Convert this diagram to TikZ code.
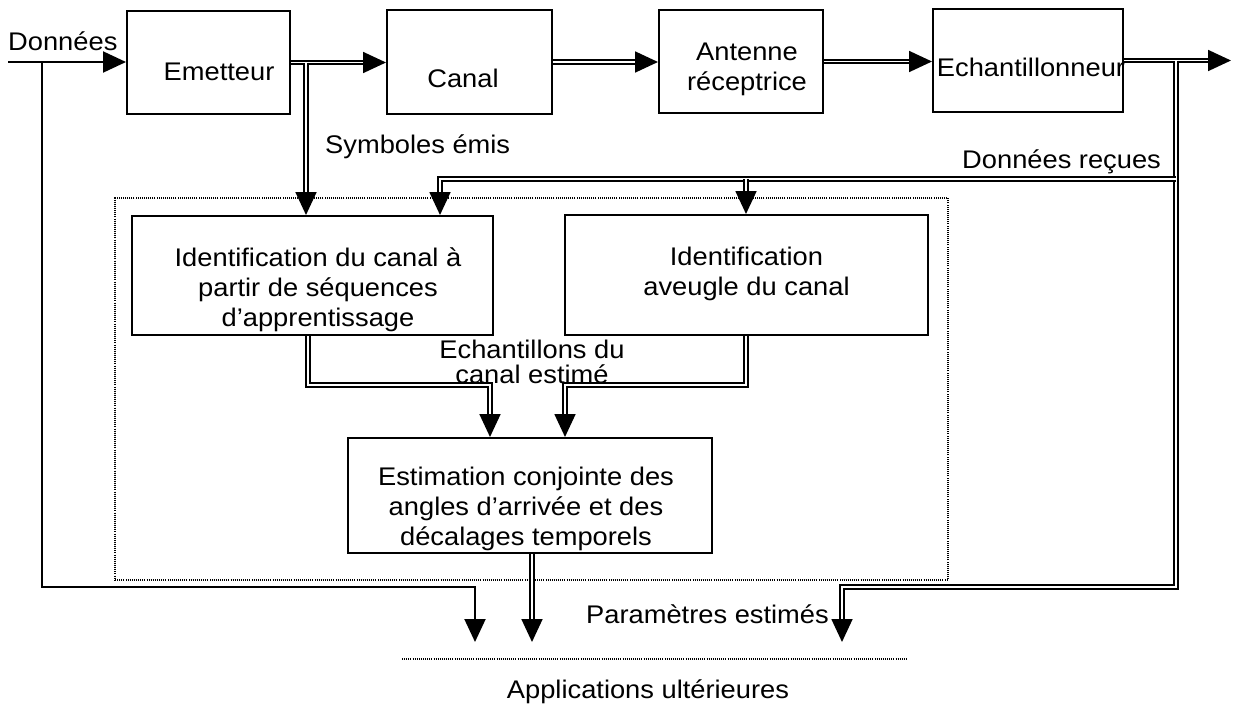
\documentclass[tikz,border=0pt]{standalone}
\usepackage{fontspec}
\setmainfont{Liberation Sans}[FakeStretch=1.07]
\usetikzlibrary{arrows.meta}
\begin{document}
\begin{tikzpicture}[x=1pt,y=-1pt,
  every node/.style={font=\fontsize{25.5}{30}\selectfont, inner sep=0pt},
  blk/.style={draw, line width=2pt},
  dotbox/.style={draw, line width=1.4pt, dash pattern=on 1pt off 1.1pt},
  arr/.style={-{Triangle[length=23pt 0 0,width=21pt 0 0]}},
  sgl/.style={line width=2pt},
  dbl/.style={double, line width=1.8pt, double distance=1.6pt}]
\useasboundingbox (0,0) rectangle (1235,715);
% group frame
\node[dotbox, minimum width=833pt, minimum height=382pt] (grp) at (531.5,389) {};
% blocks
\node[blk, minimum width=163pt, minimum height=103pt,
  label={[xshift=10.5pt,yshift=-9.5pt]center:Emetteur}] (emet) at (208.5,62.5) {};
\node[blk, minimum width=165pt, minimum height=104pt,
  label={[xshift=-6.5pt,yshift=-16pt]center:Canal}] (canal) at (469.5,62) {};
\node[blk, minimum width=164pt, minimum height=103pt,
  label={[align=center,xshift=6pt,yshift=-8pt]center:Antenne\\réceptrice}] (ant) at (741,61.5) {};
\node[blk, minimum width=190pt, minimum height=103pt,
  label={[xshift=3pt,yshift=-6.5pt]center:Echantillonneur}] (ech) at (1028,60.5) {};
\node[blk, minimum width=361pt, minimum height=119pt,
  label={[align=center,xshift=5.5pt,yshift=-14.5pt]center:Identification du canal à\\partir de séquences\\d’apprentissage}] (ident) at (312.5,275.5) {};
\node[blk, minimum width=363pt, minimum height=120pt,
  label={[align=center,yshift=1.5pt]center:Identification\\aveugle du canal}] (aveu) at (746.5,275) {};
\node[blk, minimum width=364pt, minimum height=115pt,
  label={[align=center,xshift=-4pt,yshift=-13.5pt]center:Estimation conjointe des\\angles d’arrivée et des\\décalages temporels}] (est) at (530,495.5) {};
% free texts
\node[anchor=base west] (tdon) at (8,50) {Données};
\node[anchor=base west] (tsym) at (325,153) {Symboles émis};
\node[anchor=base west] (trec) at (962,168) {Données reçues};
\node[align=center, font=\fontsize{25.5}{25}\selectfont] (tech) at (532,361.5) {Echantillons du\\canal estimé};
\node[anchor=base west] (tpar) at (586,623) {Paramètres estimés};
\node[anchor=base] (tapp) at (648,698) {Applications ultérieures};
% helper coordinates
\coordinate (din) at (8,62);
\coordinate (out) at (1231,0);
\coordinate (sym) at (306,0);
\coordinate (rx) at (1176,0);
\coordinate (rtop) at (0,179);
\coordinate (bot) at (0,587);
\coordinate (px) at (842,0);
\coordinate (dx) at (42,0);
\coordinate (ax) at (475,0);
\coordinate (tipy) at (0,642);
\coordinate (mid) at (0,385);
\coordinate (i1x) at (308,0);
\coordinate (e1x) at (490,0);
\coordinate (a1x) at (746,0);
\coordinate (e2x) at (565,0);
\coordinate (ex) at (532,0);
\coordinate (rl) at (440,0);
% connectors
\draw[sgl,arr] (din) -- (din -| emet.west);
\draw[sgl,arr] (din -| dx) -- (dx |- bot) -- (ax |- bot) -- (ax |- tipy);
\draw[dbl,arr] (emet.east) -- (emet.east -| canal.west);
\draw[dbl,arr] (canal.east) -- (canal.east -| ant.west);
\draw[dbl,arr] (ant.east) -- (ant.east -| ech.west);
\draw[dbl,arr] (ech.east) -- (ech.east -| out);
\draw[dbl,arr] (sym |- emet.east) -- (sym |- ident.north);
\draw[dbl,arr] (rx |- ech.east) -- (rx |- bot) -- (px |- bot) -- (px |- tipy);
\draw[dbl,arr] (rx |- rtop) -- (rl |- rtop) -- (rl |- ident.north);
\draw[dbl,arr] (a1x |- rtop) -- (a1x |- aveu.north);
\draw[dbl,arr] (i1x |- ident.south) -- (i1x |- mid) -- (e1x |- mid) -- (e1x |- est.north);
\draw[dbl,arr] (a1x |- aveu.south) -- (a1x |- mid) -- (e2x |- mid) -- (e2x |- est.north);
\draw[dbl,arr] (ex |- est.south) -- (ex |- tipy);
% application line
\draw[dotbox] (402,659) -- (908,659);
\end{tikzpicture}
\end{document}
